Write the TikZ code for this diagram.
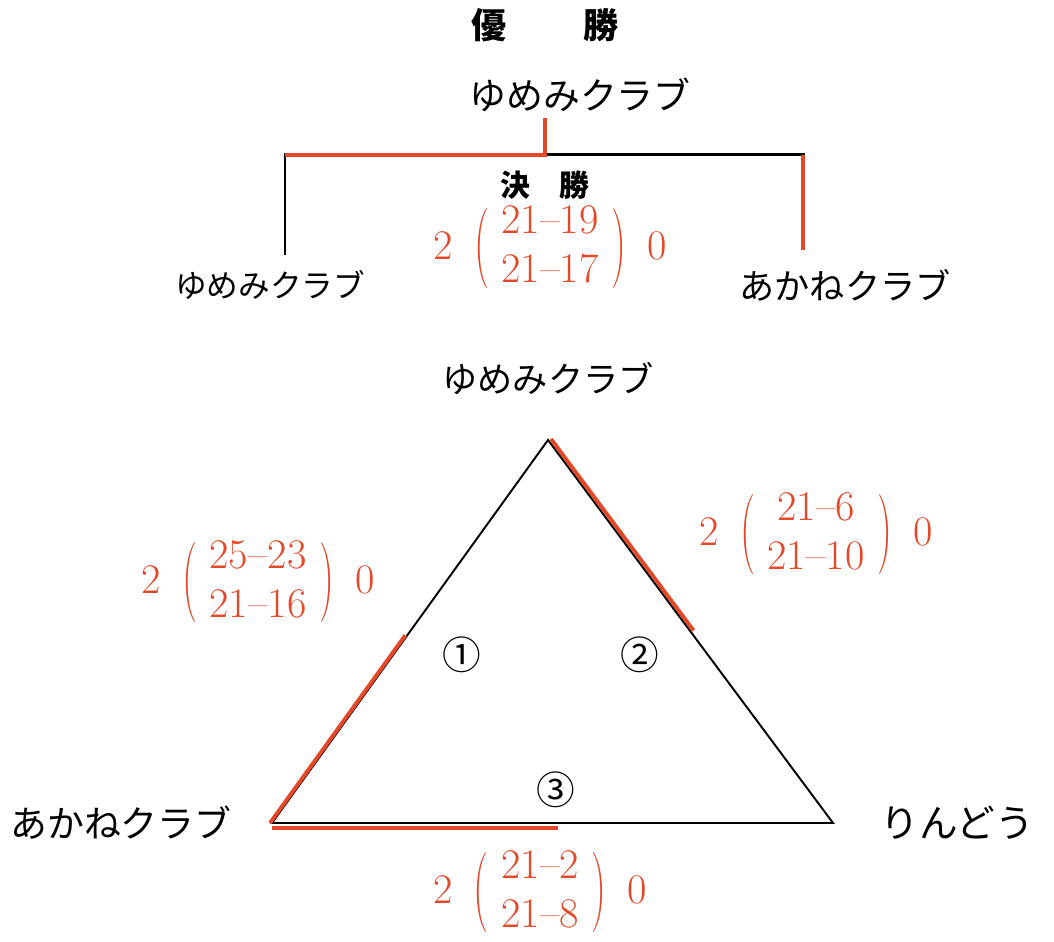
\documentclass[tikz,border=0pt]{standalone}
\usepackage{fontspec}
\newfontfamily\jp{Noto Sans CJK JP}
\usepackage{tikz}
\usetikzlibrary{positioning,calc}
\definecolor{pen}{RGB}{228,72,40}
\newcommand{\bigparen}[1]{$\vcenter{\hbox{\scalebox{1}[1.9]{#1}}}$}
\newcommand{\setscore}[4]{#1\hspace{0.5em}\bigparen{(}\hspace{0.3em}\begin{tabular}{@{}c@{}}#2\\#3\end{tabular}\hspace{0.3em}\bigparen{)}\hspace{0.5em}#4}

\begin{document}
\begin{tikzpicture}[
    title/.style={font=\jp\bfseries\fontsize{20}{24}\selectfont},
    team/.style={font=\jp\fontsize{20}{24}\selectfont, inner sep=0pt},
    score/.style={text=pen, font=\fontsize{24}{28}\selectfont, inner sep=0pt},
    num/.style={font=\jp\fontsize{22}{24}\selectfont},
    bracket/.style={line width=1.7pt},
    tri/.style={line width=1.1pt, line join=miter},
    win/.style={draw=pen, line width=2.2pt}
]
\useasboundingbox (0,0) rectangle (21.08,18.82);

% Final
\node[title] (champ_title) at (10.9,18.32) {優\hspace{2.2em}勝};
\node[team, font=\jp\fontsize{21}{24}\selectfont] (champ) at (11.6,16.92) {ゆめみクラブ};
\node[title, font=\jp\bfseries\fontsize{17}{20}\selectfont] (final_title) at (10.9,15.12) {決\hspace{1em}勝};
\node[score] (final_score) at (11.0,13.85) {\setscore{2}{21--19}{21--17}{0}};
\node[team, font=\jp\fontsize{18}{22}\selectfont] (left_team) at (5.4,13.12) {ゆめみクラブ};
\node[team] (right_team) at (16.9,13.12) {あかねクラブ};

\coordinate (stem) at (10.9,16.46);
\coordinate (jn) at (10.9,15.72);
\coordinate (lc) at (5.7,15.72);
\coordinate (rc) at (16.06,15.72);
\coordinate (lend) at (5.7,13.72);
\coordinate (rend) at (16.06,13.82);

\draw[bracket] (lend) -- (lc) -- (rc) -- (rend);
\draw[bracket] (stem) -- (jn);
\draw[win] (lc) -- (jn) -- (stem);
\draw[win] (rc) -- (rend);

% League
\coordinate (A) at (10.96,10.02);
\coordinate (B) at (5.44,2.36);
\coordinate (C) at (16.66,2.36);
\draw[tri] (A) -- (B) -- (C) -- cycle;

\draw[win] ($(A)+(0.06,0.02)$) -- ($(A)!0.5!(C)+(0.06,0.02)$);
\draw[win] ($(B)+(-0.04,0)$) -- ($(B)!0.49!(A)+(-0.04,0)$);
\draw[win] ($(B)+(0,-0.1)$) -- ($(B)!0.51!(C)+(0,-0.1)$);

\node[team, above=0.9cm of A] (top_team) {ゆめみクラブ};
\node[team, font=\jp\fontsize{21}{24}\selectfont, left=0.8cm of B] (left_vertex) {あかねクラブ};
\node[team, font=\jp\fontsize{22}{24}\selectfont, right=0.94cm of C] (right_vertex) {りんどう};

\node[num] (m1) at (9.24,5.72) {①};
\node[num] (m2) at (12.8,5.72) {②};
\node[num] (m3) at (11.12,3.02) {③};

\node[score] (score1) at (5.16,7.16) {\setscore{2}{25--23}{21--16}{0}};
\node[score] (score2) at (16.32,8.12) {\setscore{2}{21--6}{21--10}{0}};
\node[score] (score3) at (10.8,0.96) {\setscore{2}{21--2}{21--8}{0}};

\end{tikzpicture}
\end{document}
